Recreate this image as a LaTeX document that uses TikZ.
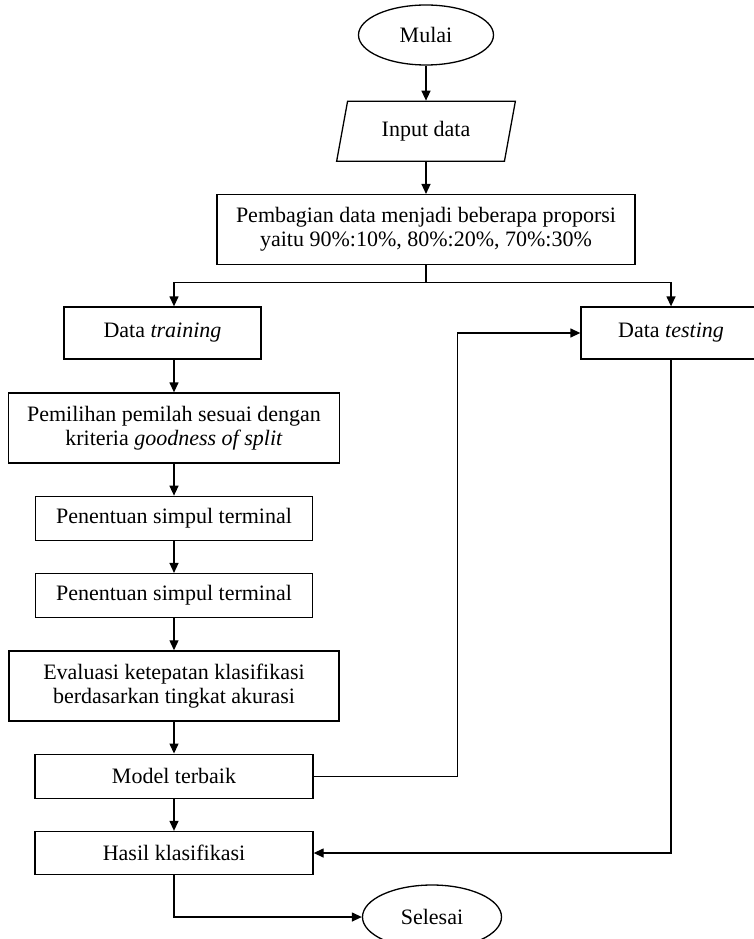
\documentclass[tikz,border=0pt]{standalone}
\usepackage{fontspec}
\setmainfont{Liberation Serif}
\usepackage{tikz}
\usetikzlibrary{shapes.geometric,arrows.meta,positioning,calc}

\begin{document}
\begin{tikzpicture}[x=1pt,y=-1pt,
  node distance=32pt,
  term/.style={ellipse,draw,line width=1.3pt,inner sep=0pt,font=\fontsize{22}{24}\selectfont},
  io/.style={trapezium,trapezium left angle=76,trapezium right angle=104,trapezium stretches=true,
    draw,line width=1.3pt,minimum width=179pt,minimum height=60pt,font=\fontsize{22}{24}\selectfont},
  proc/.style={rectangle,draw,line width=1.3pt,align=center,inner sep=0pt,font=\fontsize{22}{24}\selectfont},
  sig/.style={-{Triangle[length=10pt,width=9pt]},line width=1.3pt},
  ln/.style={line width=1.3pt}]
  \useasboundingbox (0,0) rectangle (754,939);
  \node[term,minimum width=135pt,minimum height=60pt] (mulai) at (426,35) {Mulai};
  \node[io,below=35pt of mulai] (input) {Input data};
  \node[proc,below=of input,minimum width=418pt,minimum height=70pt] (bagi)
    {Pembagian data menjadi beberapa proporsi\\yaitu 90\%:10\%, 80\%:20\%, 70\%:30\%};
  \node[proc,minimum width=197pt,minimum height=52pt] (train) at (162.5,333) {Data \textit{training}};
  \node[proc,minimum width=180pt,minimum height=52pt] (test) at (671,333) {Data \textit{testing}};
  \node[proc,minimum width=331pt,minimum height=70pt] (pilih) at (174,428)
    {Pemilihan pemilah sesuai dengan\\kriteria \textit{goodness of split}};
  \node[proc,below=of pilih,minimum width=277pt,minimum height=44pt] (simpul1) {Penentuan simpul terminal};
  \node[proc,below=of simpul1,minimum width=277pt,minimum height=44pt] (simpul2) {Penentuan simpul terminal};
  \node[proc,below=of simpul2,minimum width=330pt,minimum height=70pt] (eval)
    {Evaluasi ketepatan klasifikasi\\berdasarkan tingkat akurasi};
  \node[proc,below=of eval,minimum width=278pt,minimum height=44pt] (model) {Model terbaik};
  \node[proc,below=of model,minimum width=278pt,minimum height=43pt] (hasil) {Hasil klasifikasi};
  \node[term,minimum width=139pt,minimum height=64pt] (selesai) at (432,917) {Selesai};
  % alur utama
  \draw[sig] (mulai.south) -- (input.north);
  \draw[sig] (input.south) -- (bagi.north);
  \coordinate (split) at ($(bagi.south)+(0,17)$);
  \draw[ln] (bagi.south) -- (split);
  \draw[sig] (split) -| (pilih.north |- train.north);
  \draw[sig] (split) -| (test.north);
  \draw[sig] (pilih.north |- train.south) -- (pilih.north);
  \draw[sig] (pilih.south) -- (simpul1.north);
  \draw[sig] (simpul1.south) -- (simpul2.north);
  \draw[sig] (simpul2.south) -- (eval.north);
  \draw[sig] (eval.south) -- (model.north);
  \draw[sig] (model.south) -- (hasil.north);
  % model terbaik diuji dengan data testing
  \draw[sig] (model.east) -- ++(144,0) |- (test.west);
  \draw[sig] (test.south) |- (hasil.east);
  \draw[sig] (hasil.south) |- (selesai.west);
\end{tikzpicture}
\end{document}
